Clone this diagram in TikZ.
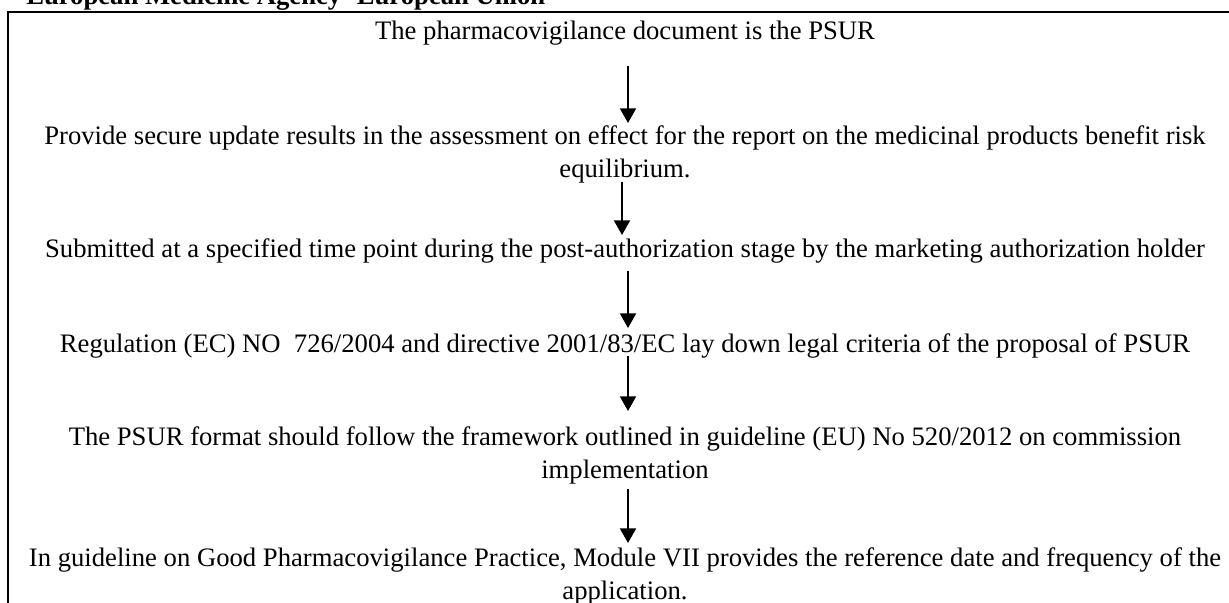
\documentclass[tikz,border=0pt]{standalone}
\usepackage{fontspec}
\setmainfont{Liberation Serif}
\usetikzlibrary{arrows.meta,calc}
\newcommand{\lnstrut}{\rule[-5pt]{0pt}{24pt}}
\begin{document}
\begin{tikzpicture}[x=0.75pt,y=-0.75pt,
  txt/.style={font=\fontsize{20}{22.5}\selectfont, inner sep=0pt, align=center, anchor=north},
  hdr/.style={font=\bfseries\fontsize{20}{22.5}\selectfont, inner sep=0pt, anchor=base west},
  arr/.style={line width=1.5pt, -{Triangle[length=11pt,width=12pt]}},
  frameline/.style={line width=1.5pt}]
\useasboundingbox (0,0) rectangle (1229,603);
% frame
\draw[frameline] (8,603) -- (8,12) -- (1229,12);
% header
\node[hdr] (head) at (26,5) {European Medicine Agency- European Union};
% texts (north = first baseline - 25.33px)
\node[txt] (t1) at (625,13.67) {\lnstrut The pharmacovigilance document is the PSUR};
\node[txt] (t2) at (625,118.67) {\lnstrut Provide secure update results in the assessment on effect for the report on the medicinal products benefit risk\\\lnstrut equilibrium.};
\node[txt] (t3) at (625,231.67) {\lnstrut Submitted at a specified time point during the post-authorization stage by the marketing authorization holder};
\node[txt] (t4) at (625,326.67) {\lnstrut Regulation (EC) NO\ \ 726/2004 and directive 2001/83/EC lay down legal criteria of the proposal of PSUR};
\node[txt] (t5) at (625,419.67) {\lnstrut The PSUR format should follow the framework outlined in guideline (EU) No 520/2012 on commission\\\lnstrut implementation};
\node[txt] (t6) at (625,540.67) {\lnstrut In guideline on Good Pharmacovigilance Practice, Module VII provides the reference date and frequency of the\\\lnstrut application.};
% arrows
\draw[arr] ($(t1.south)+(3,19.33)$) -- ($(t2.north)+(3,4.33)$);
\draw[arr] ($(t2.south)+(-3,-2.67)$) -- ($(t3.north)+(-3,3.33)$);
\draw[arr] ($(t3.south)+(3,6.33)$) -- ($(t4.north)+(3,1.33)$);
\draw[arr] ($(t4.south)+(3,-3.67)$) -- ($(t5.north)+(3,-8.67)$);
\draw[arr] ($(t5.south)+(3,3.33)$) -- ($(t6.north)+(3,2.33)$);
\end{tikzpicture}
\end{document}
